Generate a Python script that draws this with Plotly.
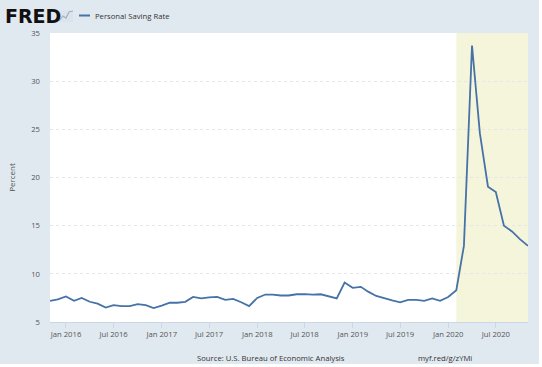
import pandas as pd
import plotly.graph_objects as go

# ---- data ----
series_name = "Personal Saving Rate"
start_month = "2015-11-01"
saving_rate = [
    7.2, 7.35,
    7.65, 7.2, 7.5, 7.1, 6.9, 6.5, 6.75, 6.65, 6.65, 6.85, 6.75, 6.45,
    6.7, 7.0, 7.0, 7.1, 7.6, 7.45, 7.55, 7.6, 7.3, 7.4, 7.05, 6.65,
    7.5, 7.85, 7.85, 7.75, 7.75, 7.88, 7.9, 7.85, 7.88, 7.65, 7.45, 9.1,
    8.55, 8.65, 8.15, 7.7, 7.45, 7.25, 7.05, 7.3, 7.3, 7.2, 7.45, 7.2,
    7.6, 8.3, 12.9, 33.7, 24.6, 19.05, 18.5, 15.0, 14.4, 13.6, 12.9,
]
months = pd.date_range(start_month, periods=len(saving_rate), freq="MS")

recession_start = "2020-02-01"
recession_end = "2020-11-01"

x_tick_vals = ["2016-01-01", "2016-07-01", "2017-01-01", "2017-07-01", "2018-01-01",
               "2018-07-01", "2019-01-01", "2019-07-01", "2020-01-01", "2020-07-01"]
x_tick_text = ["Jan 2016", "Jul 2016", "Jan 2017", "Jul 2017", "Jan 2018",
               "Jul 2018", "Jan 2019", "Jul 2019", "Jan 2020", "Jul 2020"]
y_tick_vals = [5, 10, 15, 20, 25, 30, 35]

source_text = "Source: U.S. Bureau of Economic Analysis"
link_text = "myf.red/g/zYMi"
y_title = "Percent"

# ---- layout geometry ----
W, H = 542, 367
L, R, T, B = 50, 528, 33, 322
def px(x):
    return (x - L) / (R - L)
def py(y):
    return (B - y) / (B - T)

LINE = "#4572a7"
FONT = "Open Sans"
TXT = 7.7

fig = go.Figure()
fig.add_trace(go.Scatter(
    x=months, y=saving_rate, mode="lines", name=series_name,
    line=dict(color=LINE, width=1.8), showlegend=False,
))

fig.add_shape(type="rect", xref="x", yref="paper",
              x0=recession_start, x1=recession_end, y0=0, y1=1,
              fillcolor="#f5f5dc", line=dict(width=0), layer="below")

# outer white frame (right/bottom edge)
fig.add_shape(type="rect", xref="paper", yref="paper",
              x0=px(539), x1=px(545), y0=py(-5), y1=py(370),
              fillcolor="#ffffff", line=dict(width=0))
fig.add_shape(type="rect", xref="paper", yref="paper",
              x0=px(-5), x1=px(545), y0=py(364), y1=py(370),
              fillcolor="#ffffff", line=dict(width=0))

# legend line + text
fig.add_shape(type="line", xref="paper", yref="paper",
              x0=px(79), x1=px(90), y0=py(15.5), y1=py(15.5),
              line=dict(color=LINE, width=2))
fig.add_annotation(xref="paper", yref="paper", x=px(93), y=py(15.5),
                   text=series_name, showarrow=False, xanchor="left", yanchor="middle",
                   font=dict(family=FONT, size=TXT, color="#333333"))
# FRED logo text
fig.add_annotation(xref="paper", yref="paper", x=px(3), y=py(16),
                   text="<b>FRED</b>", showarrow=False, xanchor="left", yanchor="middle",
                   font=dict(family="DejaVu Sans", size=19, color="#111111"))
# small graph icon
fig.add_shape(type="rect", xref="paper", yref="paper",
              x0=px(59), x1=px(73), y0=py(22), y1=py(10),
              fillcolor="#dde3ea", line=dict(width=0))
fig.add_shape(type="path", xref="paper", yref="paper",
              path=f"M {px(59)} {py(21)} L {px(63)} {py(16)} L {px(66)} {py(18)} L {px(69)} {py(12)} L {px(73)} {py(11)}",
              line=dict(color="#9fb3c8", width=1.2))

# footer
fig.add_annotation(xref="paper", yref="paper", x=px(271), y=py(358),
                   text=source_text, showarrow=False, xanchor="center", yanchor="middle",
                   font=dict(family=FONT, size=TXT, color="#333333"))
fig.add_annotation(xref="paper", yref="paper", x=px(445), y=py(358),
                   text=link_text, showarrow=False, xanchor="center", yanchor="middle",
                   font=dict(family=FONT, size=TXT, color="#333333"))

fig.update_layout(
    width=W, height=H,
    margin=dict(l=L, r=W - R, t=T, b=H - B, pad=0),
    paper_bgcolor="#e1e9f0", plot_bgcolor="#ffffff",
    font=dict(family=FONT, size=TXT, color="#555555"),
    xaxis=dict(
        range=[months[0], months[-1]], tickvals=x_tick_vals, ticktext=x_tick_text,
        showgrid=False, zeroline=False, ticks="outside", ticklen=5,
        tickcolor="#ccd6eb", showline=True, linecolor="#ccd6eb", linewidth=1,
        tickfont=dict(family=FONT, size=TXT, color="#555555"),
    ),
    yaxis=dict(
        range=[5, 35], tickvals=y_tick_vals, showgrid=True,
        gridcolor="#e6e6e6", griddash="dot", gridwidth=1, zeroline=False,
        ticks="", ticklabelstandoff=9,
        tickfont=dict(family=FONT, size=TXT, color="#555555"),
        title=dict(text=y_title, font=dict(family=FONT, size=8, color="#555555"), standoff=14),
    ),
)

fig.write_html("out.html", config={"displayModeBar": False},
               post_script="document.body.style.margin='0';document.body.style.overflow='hidden';")
